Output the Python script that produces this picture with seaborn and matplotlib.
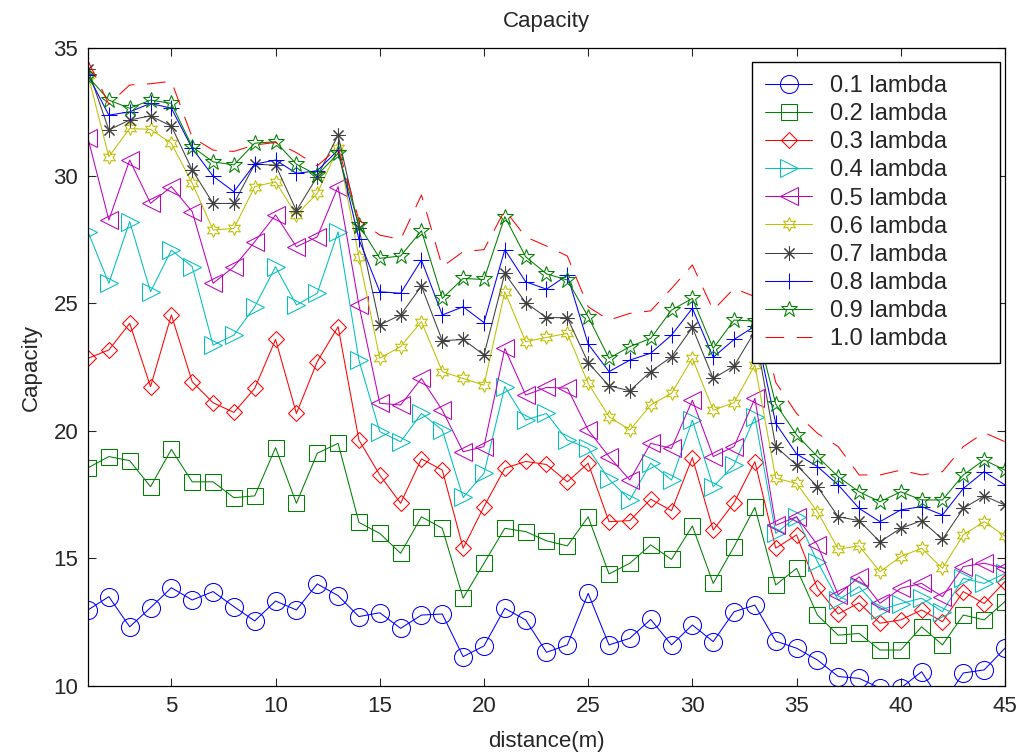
import numpy as np
import pandas as pd
import matplotlib
matplotlib.use("Agg")
import matplotlib.pyplot as plt
import seaborn as sns

distance = list(range(1, 46))
labels = ["0.1 lambda", "0.2 lambda", "0.3 lambda", "0.4 lambda", "0.5 lambda",
          "0.6 lambda", "0.7 lambda", "0.8 lambda", "0.9 lambda", "1.0 lambda"]

s01 = [12.98, 13.50, 12.32, 13.07, 13.85, 13.37, 13.70, 13.11, 12.55, 13.33, 12.98, 14.0, 13.54, 12.72, 12.87,
       12.26, 12.78, 12.82, 11.15, 11.57, 13.04, 12.59, 11.32, 11.61, 13.63, 11.61, 11.87, 12.61, 11.61, 12.39,
       11.74, 12.91, 13.17, 11.76, 11.48, 11.02, 10.37, 10.30, 9.92, 9.92, 10.56, 9.3, 10.51, 10.63, 11.48]
s02 = [18.55, 18.99, 18.83, 17.81, 19.27, 18.0, 18.0, 17.38, 17.45, 19.34, 17.16, 19.12, 19.51, 16.41, 15.98,
       15.2, 16.63, 16.18, 13.44, 14.81, 16.18, 16.05, 15.69, 15.49, 16.63, 14.39, 14.81, 15.53, 14.96, 16.27,
       14.02, 15.46, 17.0, 13.96, 14.61, 12.78, 11.99, 12.06, 11.41, 11.41, 12.32, 11.61, 12.78, 12.59, 13.31]
s03 = [22.84, 23.17, 24.21, 21.73, 24.54, 21.92, 21.10, 20.72, 21.66, 23.58, 20.68, 22.71, 24.08, 19.64, 18.27,
       17.16, 18.9, 18.46, 15.40, 17.03, 18.53, 18.8, 18.68, 18.0, 18.73, 16.44, 16.48, 17.32, 16.87, 18.95,
       16.11, 17.18, 18.79, 15.4, 15.92, 13.83, 12.82, 13.26, 12.46, 12.59, 12.98, 12.52, 13.70, 13.23, 14.09]
s04 = [27.8, 25.78, 28.2, 25.45, 27.08, 26.43, 23.36, 23.75, 24.86, 26.43, 24.93, 25.39, 27.8, 22.77, 19.97,
       19.57, 20.68, 20.03, 17.39, 18.33, 21.73, 20.42, 20.68, 19.64, 19.31, 18.1, 17.29, 18.73, 18.07, 20.42,
       17.81, 18.66, 20.55, 15.98, 16.63, 14.87, 13.37, 13.89, 12.98, 13.23, 13.44, 12.91, 14.22, 14.02, 14.41]
s05 = [31.46, 28.26, 30.61, 28.91, 29.57, 28.59, 25.78, 26.43, 27.41, 28.46, 27.21, 27.6, 29.57, 24.93, 21.08,
       21.01, 22.05, 20.81, 19.18, 19.38, 23.23, 21.4, 21.7, 21.67, 20.03, 18.99, 18.07, 19.51, 19.31, 21.2,
       18.99, 19.38, 21.27, 16.3, 16.63, 15.53, 13.57, 14.28, 13.24, 13.83, 14.02, 13.5, 14.68, 14.81, 14.61]
s06 = [33.94, 30.74, 31.85, 31.81, 31.27, 29.7, 27.87, 27.93, 29.57, 29.76, 28.46, 29.31, 31.07, 26.82, 22.84,
       23.3, 24.28, 22.32, 22.05, 21.79, 25.45, 23.49, 23.66, 23.82, 21.86, 20.55, 20.03, 21.01, 21.47, 22.84,
       20.81, 21.1, 22.58, 18.14, 17.94, 16.83, 15.36, 15.49, 14.48, 15.07, 15.40, 14.61, 15.92, 16.44, 15.88]
s07 = [34.16, 31.79, 32.18, 32.34, 31.94, 30.22, 28.91, 28.91, 30.45, 30.41, 28.63, 29.96, 31.59, 27.93, 24.15,
       24.54, 25.67, 23.53, 23.58, 22.97, 26.17, 25.02, 24.44, 24.43, 22.67, 21.76, 21.57, 22.32, 22.9, 24.05,
       22.05, 22.54, 23.9, 19.38, 18.66, 17.81, 16.63, 16.48, 15.65, 16.18, 16.48, 15.75, 16.96, 17.45, 17.09]
s08 = [33.94, 32.37, 32.5, 32.83, 32.64, 31.07, 29.98, 29.37, 30.45, 30.61, 30.09, 30.19, 31.0, 27.5, 25.45,
       25.39, 26.69, 24.54, 24.86, 24.24, 27.1, 25.84, 25.55, 26.1, 23.4, 22.32, 22.77, 23.04, 23.75, 24.8,
       22.88, 23.58, 24.1, 20.29, 19.09, 18.6, 17.88, 16.96, 16.44, 16.9, 17.03, 16.7, 17.74, 18.4, 17.88]
s09 = [33.88, 32.96, 32.64, 32.96, 32.83, 31.13, 30.54, 30.42, 31.27, 31.33, 30.45, 30.02, 30.87, 28.06, 26.76,
       26.85, 27.84, 25.19, 25.97, 25.93, 28.39, 26.82, 26.15, 25.91, 24.47, 22.84, 23.3, 23.62, 24.73, 25.19,
       23.23, 24.34, 24.3, 21.05, 19.84, 18.99, 18.2, 17.61, 17.22, 17.61, 17.29, 17.29, 18.27, 18.86, 18.46]
s10 = [34.5, 32.8, 33.55, 33.6, 33.7, 31.5, 31.0, 30.95, 31.2, 31.3, 30.9, 30.38, 31.1, 28.26, 27.67,
       27.5, 29.24, 26.43, 27.02, 27.1, 28.65, 27.6, 27.24, 26.85, 24.86, 24.34, 24.6, 24.7, 25.58, 26.5,
       24.73, 25.58, 25.26, 21.9, 20.68, 19.9, 19.38, 18.27, 18.27, 18.46, 18.27, 18.4, 19.38, 19.93, 19.57]

series = [s01, s02, s03, s04, s05, s06, s07, s08, s09, s10]
xticks = [5, 10, 15, 20, 25, 30, 35, 40, 45]
yticks = [10, 15, 20, 25, 30, 35]

colors = [(0, 0, 1), (0, 0.5, 0), (1, 0, 0), (0, 0.75, 0.75), (0.75, 0, 0.75),
          (0.75, 0.75, 0), (0.25, 0.25, 0.25), (0, 0, 1), (0, 0.5, 0), (1, 0, 0)]
markers = ["o", "s", "D", ">", "<", (6, 1, 0), (8, 2, 0), "+", "*", None]
msizes = [13, 12, 8.6, 12.5, 12.5, 10, 10, 12, 12, 0]

sns.set_style("ticks")
plt.rcParams["font.family"] = ["Liberation Sans", "DejaVu Sans"]

fig = plt.figure(figsize=(10.21, 7.54), dpi=100)
ax = fig.add_axes([0.0862, 0.0902, 0.8981, 0.8461])

for lab, vals, col, mk, ms in zip(labels, series, colors, markers, msizes):
    df = pd.DataFrame({"distance": distance, "capacity": vals})
    kw = dict(color=col, linewidth=0.75, label=lab, ax=ax)
    if mk is None:
        sns.lineplot(data=df, x="distance", y="capacity", linestyle=(0, (18, 12)), **kw)
    else:
        sns.lineplot(data=df, x="distance", y="capacity", marker=mk, markersize=ms,
                     markerfacecolor="none", markeredgecolor=col, markeredgewidth=0.75, **kw)

ax.set_xlim(1, 45)
ax.set_ylim(10, 35)
ax.set_xticks(xticks)
ax.set_yticks(yticks)
ax.tick_params(direction="in", length=6, width=0.8, top=True, right=True, labelsize=16, pad=7)
for sp in ax.spines.values():
    sp.set_visible(True)
    sp.set_linewidth(0.9)
    sp.set_color("black")

ax.set_title("Capacity", fontsize=16, pad=15)
ax.set_xlabel("distance(m)", fontsize=16, labelpad=10)
ax.set_ylabel("Capacity", fontsize=16, labelpad=8)

leg = ax.legend(loc="upper right", bbox_to_anchor=(0.7241, 0.5, 0.2704, 0.478), mode="expand",
                borderaxespad=0, fontsize=17, frameon=True, fancybox=False, framealpha=1,
                edgecolor="black", handlelength=2.0, labelspacing=0.26, borderpad=0.55,
                handletextpad=0.75)
leg.get_frame().set_linewidth(1.0)

fig.savefig("out.png", dpi=100)
